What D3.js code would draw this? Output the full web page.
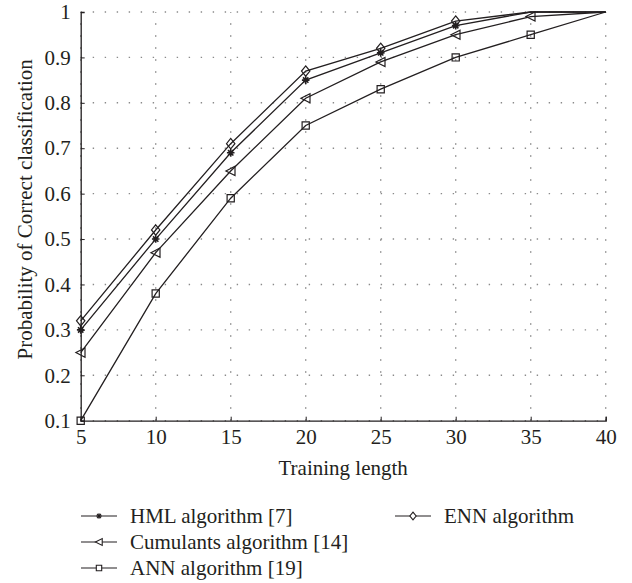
<!DOCTYPE html>
<html>
<head>
<meta charset="utf-8">
<script src="https://cdn.jsdelivr.net/npm/d3@7/dist/d3.min.js"></script>
<style>
  html, body { margin: 0; padding: 0; background: #fff; }
  svg { display: block; }
  text { font-family: "Liberation Serif", "Times New Roman", serif; fill: #231f20; }
</style>
</head>
<body>
<script>
// ---- data ----
const trainingLength = [5, 10, 15, 20, 25, 30, 35, 40];
const hmlValues       = [0.30, 0.50, 0.69, 0.85, 0.91, 0.97, 1.00, 1.00];
const cumulantsValues = [0.25, 0.47, 0.65, 0.81, 0.89, 0.95, 0.99, 1.00];
const annValues       = [0.10, 0.38, 0.59, 0.75, 0.83, 0.90, 0.95, 1.00];
const ennValues       = [0.32, 0.52, 0.71, 0.87, 0.92, 0.98, 1.00, 1.00];
const seriesNames = ["HML algorithm [7]", "Cumulants algorithm [14]", "ANN algorithm [19]", "ENN algorithm"];
const xTicks = [5, 10, 15, 20, 25, 30, 35, 40];
const yTicks = [0.1, 0.2, 0.3, 0.4, 0.5, 0.6, 0.7, 0.8, 0.9, 1];
const xLabel = "Training length";
const yLabel = "Probability of Correct classification";

const W = 632, H = 583;
const m = { left: 80.7, right: 632 - 605.7, top: 12, bottom: 583 - 420.7 };
const ink = "#231f20";

const svg = d3.select("body").append("svg").attr("width", W).attr("height", H);

const x = d3.scaleLinear().domain([5, 40]).range([m.left, W - m.right]);
const y = d3.scaleLinear().domain([0.1, 1]).range([H - m.bottom, m.top]);

// grid
const grid = svg.append("g");
grid.selectAll("line.v").data(xTicks).join("line")
  .attr("x1", d => x(d)).attr("x2", d => x(d))
  .attr("y1", y(0.1)).attr("y2", y(1))
  .attr("stroke", "#8a8a8a").attr("stroke-width", 1.4)
  .attr("stroke-dasharray", "1.4,10.6");
grid.selectAll("line.h").data(yTicks).join("line")
  .attr("y1", d => y(d)).attr("y2", d => y(d))
  .attr("x1", x(5)).attr("x2", x(40))
  .attr("stroke", "#8a8a8a").attr("stroke-width", 1.4)
  .attr("stroke-dasharray", "1.4,10.6");

// axes
const xAxis = d3.axisBottom(x).tickValues(xTicks).tickSize(-4).tickPadding(8).tickFormat(d3.format("d"));
const yAxis = d3.axisLeft(y).tickValues(yTicks).tickSize(-4).tickPadding(10).tickFormat(d => d === 1 ? "1" : d3.format(".1f")(d));

const gx = svg.append("g").attr("transform", `translate(0,${y(0.1)})`).call(xAxis);
const gy = svg.append("g").attr("transform", `translate(${x(5)},0)`).call(yAxis);
[gx, gy].forEach(g => {
  g.select(".domain").attr("stroke", ink).attr("stroke-width", 1.3);
  g.selectAll(".tick line").attr("stroke", ink).attr("stroke-width", 1);
  g.selectAll(".tick text").attr("font-size", 21).attr("fill", ink)
    .style("font-family", '"Liberation Serif", serif');
});
gy.select(".tick:last-of-type line").remove();

// labels
svg.append("text").attr("x", (x(5) + x(40)) / 2).attr("y", 475)
  .attr("text-anchor", "middle").attr("font-size", 21).text(xLabel);
svg.append("text").attr("transform", `translate(32,${(y(0.1) + y(1)) / 2 - 7}) rotate(-90)`)
  .attr("text-anchor", "middle").attr("font-size", 21).text(yLabel);

// markers
const markerPaths = {
  star: s => {
    const r = 3.8 * s, d = r * 0.7071;
    return `M0,${-r}L0,${r}M${-r},0L${r},0M${-d},${-d}L${d},${d}M${-d},${d}L${d},${-d}`;
  },
  triangle: s => `M${-4.8 * s},0L${4.3 * s},${-4.6 * s}L${4.3 * s},${4.6 * s}Z`,
  square: s => `M${-3.6 * s},${-3.6 * s}H${3.6 * s}V${3.6 * s}H${-3.6 * s}Z`,
  diamond: s => `M0,${-5.2 * s}L${4.2 * s},0L0,${5.2 * s}L${-4.2 * s},0Z`
};
const series = [
  { name: seriesNames[0], values: hmlValues, marker: "star" },
  { name: seriesNames[1], values: cumulantsValues, marker: "triangle" },
  { name: seriesNames[2], values: annValues, marker: "square" },
  { name: seriesNames[3], values: ennValues, marker: "diamond" }
];

const line = d3.line().x(d => x(d[0])).y(d => y(d[1]));
series.forEach(s => {
  const pts = trainingLength.map((t, i) => [t, s.values[i]]);
  svg.append("path").attr("d", line(pts)).attr("fill", "none")
    .attr("stroke", ink).attr("stroke-width", 1.3);
  svg.selectAll(null).data(pts.filter(p => p[1] < 1)).join("path")
    .attr("transform", p => `translate(${x(p[0])},${y(p[1])})`)
    .attr("d", markerPaths[s.marker](1))
    .attr("fill", "none").attr("stroke", ink)
    .attr("stroke-width", s.marker === "star" ? 1.6 : 1.2);
});

// legend
const legendPos = [
  { lx: 81, ly: 516 }, { lx: 81, ly: 542 }, { lx: 81, ly: 568 }, { lx: 395, ly: 516 }
];
series.forEach((s, i) => {
  const p = legendPos[i];
  const g = svg.append("g").attr("transform", `translate(${p.lx},${p.ly})`);
  g.append("line").attr("x1", 0).attr("x2", 36).attr("y1", 0).attr("y2", 0)
    .attr("stroke", ink).attr("stroke-width", 1.2);
  g.append("path").attr("transform", "translate(18,0)").attr("d", markerPaths[s.marker](0.75))
    .attr("fill", "#fff").attr("stroke", ink).attr("stroke-width", 1.1);
  g.append("text").attr("x", 49).attr("y", 7).attr("font-size", 21).text(s.name);
});
</script>
</body>
</html>
